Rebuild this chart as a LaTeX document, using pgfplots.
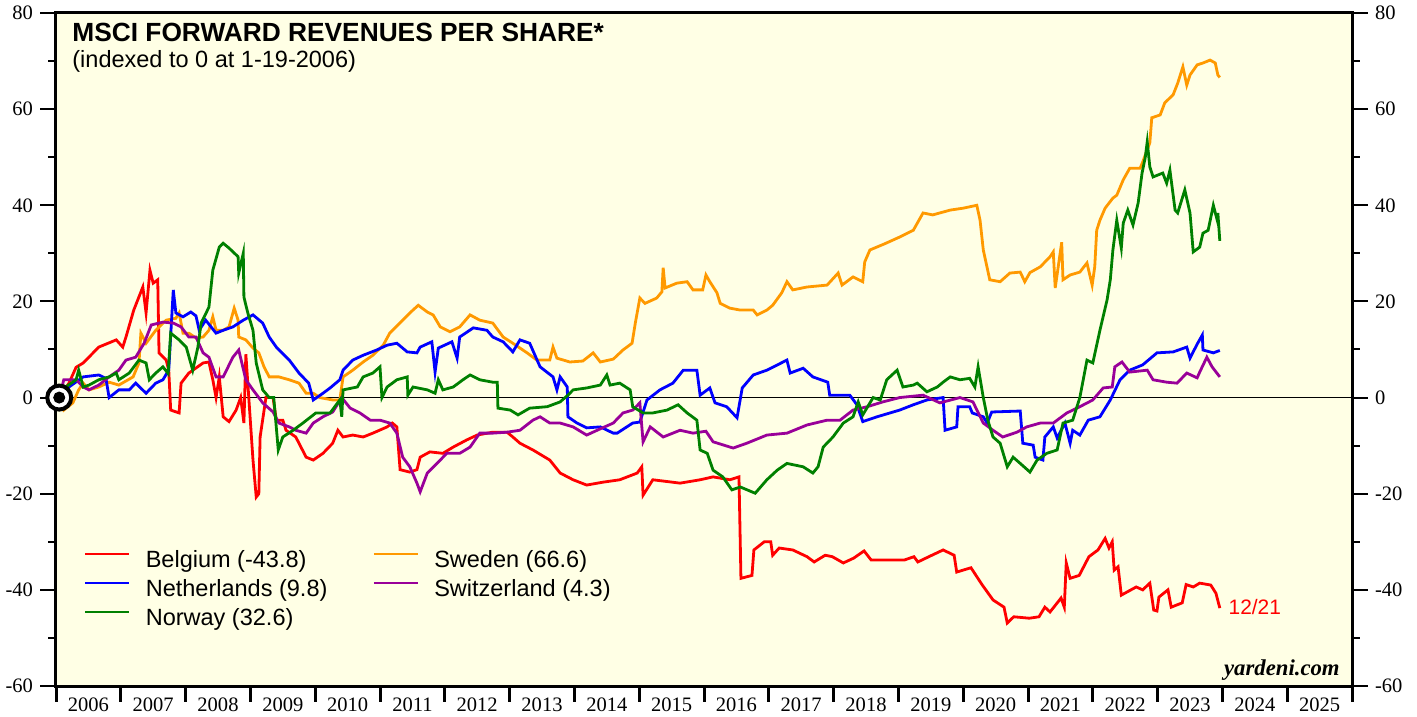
\documentclass[border=0pt]{standalone}
\usepackage{fontspec}
\setmainfont{Liberation Serif}
\newfontfamily\arial{Liberation Sans}
\usepackage{pgfplots}
\pgfplotsset{compat=1.18}
\definecolor{bgy}{RGB}{255,255,229}
\definecolor{cred}{RGB}{255,0,0}
\definecolor{cblue}{RGB}{0,0,255}
\definecolor{cgreen}{RGB}{0,128,0}
\definecolor{corange}{RGB}{255,153,0}
\definecolor{cpurple}{RGB}{153,0,153}
\begin{document}
\begin{tikzpicture}
\useasboundingbox (-28bp,-15.5bp) rectangle (680.5bp,343bp);
\begin{axis}[
  at={(0,0)}, anchor=south west,
  width=648bp, height=336.5bp, scale only axis,
  xmin=2006, xmax=2026, ymin=-60, ymax=80,
  clip=false,
  axis background/.style={fill=bgy},
  axis line style={line width=1.5bp},
  tick align=outside,
  major tick length=8bp, minor tick length=4bp,
  ytick={-60,-40,...,80}, minor ytick={-50,-30,...,70},
  ytick pos=both, yticklabel pos=left,
  ytick style={line width=1bp, black},
  minor tick style={line width=1bp, black},
  xtick={2006.5,2007.5,2008.5,2009.5,2010.5,2011.5,2012.5,2013.5,2014.5,2015.5,2016.5,2017.5,2018.5,2019.5,2020.5,2021.5,2022.5,2023.5,2024.5,2025.5},
  xticklabels={2006,2007,2008,2009,2010,2011,2012,2013,2014,2015,2016,2017,2018,2019,2020,2021,2022,2023,2024,2025},
  xtick pos=bottom,
  xtick style={draw=none},
  xticklabel style={yshift=5.8bp},
  ticklabel style={font=\fontsize{10.3}{12}\selectfont},
  /pgf/number format/assume math mode=true,
  legend columns=2,
  legend cell align=left,
  legend image code/.code={\draw[#1] (0bp,3.8bp) -- (22bp,3.8bp);},
  legend style={at={(rel axis cs:0.0216,0.2012)}, anchor=north west,
    inner sep=0pt, outer sep=0pt, draw=none, fill=none,
    font=\arial\fontsize{11.8}{13}\selectfont,
    nodes={inner xsep=2bp, inner ysep=0bp, text height=8.5bp, text depth=2.5bp},
    row sep=3.5bp,
    /tikz/every odd column/.append style={column sep=5.5bp},
    /tikz/every even column/.append style={column sep=20.5bp}},
]
\addplot[black, line width=0.6bp, forget plot] coordinates {(2006,0) (2026,0)};

\addplot[cred, line width=1.4bp] coordinates {
(2006.05,0)(2006.20,3)(2006.31,6.3)(2006.42,7.2)(2006.66,10.5)(2006.93,12)(2007.03,10.5)(2007.08,12.6)(2007.20,18.2)(2007.34,23)(2007.39,17.6)(2007.45,26.5)(2007.50,23.8)(2007.57,24.5)(2007.59,9.3)(2007.70,7.8)(2007.74,5.7)(2007.77,-2.6)(2007.90,-3.2)(2007.93,3)(2008.05,5.1)(2008.27,7.2)(2008.36,7.4)(2008.42,3.7)(2008.47,0)(2008.52,4.3)(2008.58,-4)(2008.67,-5)(2008.78,-2.6)(2008.85,0)(2008.90,-5.3)(2008.93,9)(2009.04,-13)(2009.09,-20.7)(2009.13,-20)(2009.15,-8.2)(2009.24,0)(2009.35,0)(2009.40,-4.7)(2009.50,-4.7)(2009.55,-6.8)(2009.70,-8.2)(2009.86,-12.4)(2009.97,-13)(2010.12,-11.6)(2010.27,-9.5)(2010.35,-6.8)(2010.43,-8.2)(2010.58,-7.8)(2010.74,-8.2)(2010.89,-7.4)(2011.11,-6.1)(2011.19,-5.3)(2011.26,-6.1)(2011.31,-15)(2011.46,-15.5)(2011.57,-15)(2011.62,-12.4)(2011.77,-11.3)(2011.97,-11.6)(2012.13,-10.3)(2012.34,-8.8)(2012.50,-7.8)(2012.74,-7.2)(2012.96,-7.2)(2013.05,-8.2)(2013.16,-9.5)(2013.36,-10.9)(2013.62,-13)(2013.78,-15.7)(2013.98,-17.1)(2014.19,-18.2)(2014.44,-17.6)(2014.70,-17.1)(2014.97,-15.7)(2015.04,-14.4)(2015.06,-20.3)(2015.21,-17.1)(2015.63,-17.8)(2015.94,-17.1)(2016.14,-16.5)(2016.40,-17.1)(2016.54,-16.5)(2016.57,-37.6)(2016.74,-37)(2016.77,-31.7)(2016.93,-30)(2017.03,-30)(2017.06,-32.8)(2017.16,-31.3)(2017.37,-31.7)(2017.59,-33.1)(2017.70,-34.2)(2017.87,-32.8)(2017.98,-33.1)(2018.15,-34.4)(2018.31,-33.4)(2018.47,-31.9)(2018.58,-33.8)(2018.81,-33.8)(2019.09,-33.8)(2019.24,-33.1)(2019.30,-34.2)(2019.47,-33.1)(2019.69,-31.7)(2019.86,-32.8)(2019.90,-36.3)(2020.12,-35.4)(2020.29,-38.9)(2020.46,-42.1)(2020.63,-43.6)(2020.68,-46.9)(2020.78,-45.6)(2021.02,-45.9)(2021.17,-45.6)(2021.26,-43.6)(2021.34,-44.6)(2021.51,-41.7)(2021.56,-43.6)(2021.59,-34.4)(2021.65,-37.6)(2021.79,-37)(2021.94,-33.1)(2022.08,-31.7)(2022.19,-29.3)(2022.25,-31.3)(2022.30,-30)(2022.33,-35.9)(2022.39,-35.2)(2022.44,-41.1)(2022.67,-39.4)(2022.77,-40)(2022.88,-38.6)(2022.94,-44.2)(2022.99,-44.4)(2023.02,-41.5)(2023.16,-40)(2023.21,-43.6)(2023.38,-42.7)(2023.44,-38.9)(2023.55,-39.4)(2023.65,-38.6)(2023.82,-39)(2023.90,-40.7)(2023.96,-43.8)
};
\addlegendentry{Belgium (-43.8)}

\addplot[corange, line width=1.4bp] coordinates {
(2006.05,0)(2006.12,-2.6)(2006.26,-1.1)(2006.35,1.6)(2006.42,3)(2006.51,1.6)(2006.66,2.2)(2006.82,3.2)(2006.97,2.6)(2007.19,4.3)(2007.28,7.2)(2007.31,13.4)(2007.39,11.3)(2007.54,14)(2007.70,16.1)(2007.85,16.5)(2007.90,17.6)(2007.96,13.4)(2008.05,13.4)(2008.16,12.4)(2008.27,12.6)(2008.36,14)(2008.42,16.8)(2008.47,14)(2008.58,14)(2008.67,14.7)(2008.75,18.6)(2008.81,16.1)(2008.82,12.6)(2008.93,12)(2009.04,10.3)(2009.13,9.3)(2009.21,6.4)(2009.29,4.3)(2009.44,4.3)(2009.60,3.7)(2009.75,3)(2009.86,0.9)(2009.97,0.9)(2010.07,0)(2010.27,-0.5)(2010.38,-0.5)(2010.43,4.3)(2010.58,5.7)(2010.74,7.4)(2010.89,8.8)(2011.05,10.9)(2011.15,13.4)(2011.35,16.1)(2011.46,17.6)(2011.59,19.2)(2011.73,17.8)(2011.82,17.2)(2011.93,14.7)(2012.08,13.7)(2012.23,14.7)(2012.39,17.2)(2012.54,16.1)(2012.74,15.5)(2012.90,12.6)(2013.05,11.3)(2013.27,9.3)(2013.42,7.8)(2013.62,7.8)(2013.67,10.5)(2013.73,8.2)(2013.93,7.4)(2014.13,7.6)(2014.29,9.3)(2014.40,7.4)(2014.60,8)(2014.75,9.9)(2014.89,11.3)(2014.94,15.5)(2015.01,20.7)(2015.09,19.6)(2015.27,20.7)(2015.35,22)(2015.37,27)(2015.40,22.8)(2015.58,23.8)(2015.74,24.1)(2015.83,22.4)(2015.98,22.4)(2016.03,25.5)(2016.09,24.1)(2016.20,21.8)(2016.25,19.6)(2016.40,18.6)(2016.56,18.2)(2016.76,18.2)(2016.82,17.2)(2016.97,18.2)(2017.06,19.2)(2017.20,21.8)(2017.28,24.1)(2017.37,22.4)(2017.59,23)(2017.90,23.4)(2018.07,25.9)(2018.13,23.4)(2018.30,25.1)(2018.45,24.1)(2018.48,28.2)(2018.56,30.7)(2018.79,32)(2019.02,33.4)(2019.23,34.8)(2019.38,38.4)(2019.53,38)(2019.80,39)(2020.00,39.4)(2020.21,40)(2020.26,36.9)(2020.31,30.7)(2020.41,24.5)(2020.57,24.1)(2020.72,25.9)(2020.88,26.1)(2020.95,24.1)(2021.03,26)(2021.19,27.2)(2021.34,29.3)(2021.39,30.3)(2021.42,22.8)(2021.52,32.3)(2021.54,24.5)(2021.65,25.5)(2021.80,26.1)(2021.91,28)(2021.99,23.4)(2022.03,27.2)(2022.06,34.8)(2022.11,36.9)(2022.19,39.4)(2022.31,41.5)(2022.37,42.1)(2022.47,45.3)(2022.57,47.7)(2022.73,47.7)(2022.77,49)(2022.88,53)(2022.91,58.2)(2023.04,58.8)(2023.11,61.3)(2023.24,63)(2023.31,65.4)(2023.39,68.8)(2023.45,65)(2023.50,67.1)(2023.61,69.2)(2023.70,69.6)(2023.81,70.2)(2023.89,69.6)(2023.93,67.1)(2023.96,66.6)
};
\addlegendentry{Sweden (66.6)}

\addplot[cblue, line width=1.4bp] coordinates {
(2006.05,0)(2006.20,2.2)(2006.42,4.3)(2006.66,4.7)(2006.77,4)(2006.82,0)(2006.97,1.6)(2007.13,1.6)(2007.23,3)(2007.39,0.9)(2007.54,3)(2007.65,3.7)(2007.74,5.7)(2007.81,22.4)(2007.85,17.6)(2007.96,16.8)(2008.08,17.8)(2008.16,17)(2008.21,14)(2008.31,16.1)(2008.47,13.4)(2008.58,14)(2008.73,14.7)(2008.89,16.1)(2009.04,17.2)(2009.19,15.5)(2009.29,12.6)(2009.40,10.5)(2009.60,7.8)(2009.75,5.1)(2009.90,3)(2009.97,-0.5)(2010.12,0.9)(2010.23,2)(2010.38,3.7)(2010.43,5.7)(2010.58,7.8)(2010.74,8.8)(2010.95,9.9)(2011.11,10.9)(2011.26,11.3)(2011.42,9.5)(2011.57,9.3)(2011.62,10.5)(2011.80,11.6)(2011.85,5.3)(2011.90,10.3)(2012.11,11.6)(2012.19,8.2)(2012.23,12.6)(2012.44,14.5)(2012.65,14)(2012.74,12.6)(2012.90,11.6)(2013.05,9.5)(2013.16,12)(2013.31,11.3)(2013.47,6.4)(2013.67,4.3)(2013.73,1.6)(2013.78,4.3)(2013.89,2.2)(2013.90,-4)(2014.04,-5.3)(2014.19,-6.3)(2014.40,-6.1)(2014.60,-7.4)(2014.66,-7.4)(2014.90,-5.3)(2015.01,-5.1)(2015.12,-0.5)(2015.32,1.6)(2015.52,3)(2015.68,5.7)(2015.89,5.7)(2015.94,0.5)(2016.09,2)(2016.17,-1.1)(2016.35,-1.9)(2016.51,-4.2)(2016.59,2)(2016.76,4.7)(2016.97,5.7)(2017.28,7.8)(2017.33,5.1)(2017.53,6.1)(2017.68,4.3)(2017.91,3.2)(2017.94,0.5)(2018.25,0.5)(2018.36,-1.5)(2018.45,-5)(2018.67,-4)(2019.02,-2.6)(2019.23,-1.5)(2019.44,-0.5)(2019.69,0)(2019.72,-6.8)(2019.90,-6.1)(2019.92,-1.9)(2020.10,-1.9)(2020.14,-3.2)(2020.31,-4)(2020.37,-5.3)(2020.44,-3)(2020.88,-2.8)(2020.92,-9.5)(2021.08,-9.9)(2021.11,-12.4)(2021.23,-13)(2021.26,-8.2)(2021.39,-6.1)(2021.45,-8.4)(2021.57,-5.3)(2021.65,-9.5)(2021.69,-6.8)(2021.80,-7.8)(2021.93,-4.7)(2022.11,-4)(2022.27,-0.5)(2022.42,3.7)(2022.57,5.7)(2022.77,6.8)(2022.99,9.3)(2023.24,9.5)(2023.45,10.5)(2023.50,8.2)(2023.61,11.1)(2023.69,13)(2023.70,9.9)(2023.86,9.3)(2023.96,9.8)
};
\addlegendentry{Netherlands (9.8)}

\addplot[cpurple, line width=1.4bp] coordinates {
(2006.05,0)(2006.12,3.7)(2006.31,3.7)(2006.42,2.2)(2006.51,1.6)(2006.66,2.6)(2006.82,4.3)(2006.97,5.7)(2007.08,7.8)(2007.23,8.4)(2007.36,11.3)(2007.47,15.1)(2007.65,15.7)(2007.81,15.5)(2007.93,14.7)(2008.05,12.6)(2008.16,12.6)(2008.27,9.3)(2008.36,8.4)(2008.47,4.3)(2008.58,4.3)(2008.73,8.4)(2008.82,9.9)(2008.93,3.7)(2009.04,1.6)(2009.19,-1.1)(2009.35,-3)(2009.44,-5.3)(2009.60,-6.1)(2009.70,-6.8)(2009.86,-7.4)(2009.97,-5.3)(2010.12,-4)(2010.27,-3)(2010.41,0)(2010.54,-2.2)(2010.69,-3.2)(2010.85,-4.7)(2011.00,-4.7)(2011.15,-5.3)(2011.26,-7.4)(2011.35,-12.4)(2011.46,-14.4)(2011.57,-17.8)(2011.62,-19.6)(2011.73,-15.7)(2011.88,-13.7)(2012.03,-11.6)(2012.23,-11.6)(2012.39,-10.3)(2012.54,-7.4)(2012.74,-7.4)(2012.96,-7.2)(2013.16,-6.8)(2013.36,-4.7)(2013.47,-4)(2013.62,-5.3)(2013.78,-5.3)(2013.98,-6.1)(2014.19,-7.8)(2014.40,-6.5)(2014.60,-5.3)(2014.75,-3.2)(2014.90,-2.6)(2015.01,-1.1)(2015.06,-9.2)(2015.17,-6.1)(2015.37,-8.2)(2015.63,-6.8)(2015.83,-7.4)(2016.03,-7)(2016.14,-9.2)(2016.45,-10.5)(2016.66,-9.5)(2016.97,-7.8)(2017.28,-7.4)(2017.59,-5.7)(2017.90,-4.7)(2018.10,-4.7)(2018.30,-2.6)(2018.52,-1.9)(2018.76,-0.9)(2019.02,0)(2019.38,0.5)(2019.64,-1.1)(2019.95,0)(2020.15,-0.9)(2020.31,-5.3)(2020.46,-6.8)(2020.61,-8.2)(2020.83,-7.2)(2020.98,-6.1)(2021.19,-5.3)(2021.39,-5.3)(2021.60,-3.2)(2021.80,-1.9)(2022.00,-0.5)(2022.16,2)(2022.30,2.2)(2022.34,6.4)(2022.45,7.4)(2022.57,5.3)(2022.84,5.7)(2022.93,3.7)(2023.14,3.2)(2023.30,3)(2023.45,5.1)(2023.61,4.1)(2023.65,5.3)(2023.76,8.4)(2023.84,6.4)(2023.96,4.3)
};
\addlegendentry{Switzerland (4.3)}

\addplot[cgreen, line width=1.4bp] coordinates {
(2006.05,0)(2006.15,2.2)(2006.31,3.7)(2006.35,5.7)(2006.42,2.2)(2006.51,2.6)(2006.66,3.7)(2006.82,4.3)(2006.93,5.1)(2006.97,3.7)(2007.13,5.1)(2007.28,7.8)(2007.39,7.2)(2007.44,3.7)(2007.54,5.1)(2007.65,6.4)(2007.73,5)(2007.77,13.4)(2007.90,12)(2008.01,10.5)(2008.11,5.7)(2008.19,10.5)(2008.24,15.5)(2008.36,18.8)(2008.42,26.5)(2008.52,31.3)(2008.58,32.1)(2008.67,31.1)(2008.81,29.3)(2008.82,25.9)(2008.89,30)(2008.90,20.9)(2008.96,17.6)(2009.04,14)(2009.09,7.2)(2009.19,1.6)(2009.29,0)(2009.36,0)(2009.43,-10.9)(2009.50,-8.2)(2009.66,-6.8)(2009.81,-5.3)(2010.01,-3.2)(2010.23,-3.2)(2010.38,-0.5)(2010.41,-4)(2010.43,1.6)(2010.65,2.2)(2010.74,4.3)(2010.89,5.1)(2011.00,6.4)(2011.03,0)(2011.11,2.2)(2011.26,3.7)(2011.42,4.3)(2011.43,0.5)(2011.51,2.2)(2011.73,1.6)(2011.85,0.9)(2011.90,3.7)(2011.97,1.6)(2012.13,2.2)(2012.28,3.7)(2012.39,4.7)(2012.54,3.7)(2012.74,3.2)(2012.81,3.2)(2012.82,-2.2)(2013.01,-2.6)(2013.13,-3.6)(2013.31,-2.2)(2013.58,-1.9)(2013.78,-0.9)(2013.90,0.5)(2013.98,1.6)(2014.19,2)(2014.40,2.6)(2014.50,4.7)(2014.55,2.6)(2014.70,3)(2014.86,1.6)(2014.90,-1.9)(2015.06,-3.2)(2015.21,-3.2)(2015.43,-2.6)(2015.60,-1.5)(2015.74,-3.2)(2015.89,-4.7)(2015.94,-10.9)(2016.05,-11.6)(2016.14,-15.1)(2016.29,-16.5)(2016.43,-19.2)(2016.56,-18.6)(2016.79,-19.9)(2016.97,-17.1)(2017.13,-15.1)(2017.28,-13.7)(2017.53,-14.4)(2017.68,-15.7)(2017.76,-14.4)(2017.84,-10.3)(2017.99,-8.2)(2018.15,-5.3)(2018.30,-4)(2018.38,-0.9)(2018.45,-3.6)(2018.61,0)(2018.72,-0.5)(2018.82,3.7)(2018.98,5.7)(2019.07,2.2)(2019.23,2.6)(2019.29,3)(2019.44,1.2)(2019.60,2.2)(2019.69,3.2)(2019.80,4.3)(2019.95,3.7)(2020.10,4)(2020.18,2.2)(2020.23,6.4)(2020.31,0)(2020.38,-4.7)(2020.46,-8.2)(2020.57,-9.5)(2020.68,-14.4)(2020.77,-12.4)(2020.88,-13.7)(2021.03,-15.5)(2021.14,-13)(2021.29,-11.6)(2021.45,-10.9)(2021.54,-5.3)(2021.69,-4.7)(2021.80,0)(2021.91,7.8)(2022.00,7.2)(2022.11,14)(2022.22,20.3)(2022.27,24.5)(2022.31,30.7)(2022.37,36.9)(2022.44,31.1)(2022.47,36.3)(2022.54,39)(2022.62,35.9)(2022.70,40.5)(2022.76,46.7)(2022.81,50)(2022.84,53.2)(2022.88,48)(2022.93,45.9)(2023.08,46.7)(2023.14,44.6)(2023.19,47.3)(2023.27,39)(2023.31,38.4)(2023.42,43.2)(2023.50,38.4)(2023.55,30.3)(2023.65,31.3)(2023.70,34.2)(2023.78,34.8)(2023.86,40)(2023.92,36.9)(2023.93,38.4)(2023.96,32.6)
};
\addlegendentry{Norway (32.6)}

\addplot[forget plot, only marks, mark=*, mark size=6bp, mark options={fill=white, draw=black, line width=2bp}] coordinates {(2006.05,0)};
\addplot[forget plot, only marks, mark=*, mark size=2.8bp, mark options={fill=black, draw=black}] coordinates {(2006.05,0)};

\node[anchor=base west, inner sep=0pt, font=\arial\bfseries\fontsize{13.2}{15}\selectfont] at (rel axis cs:0,1) [xshift=8bp, yshift=-14.5bp] {MSCI FORWARD REVENUES PER SHARE*};
\node[anchor=base west, inner sep=0pt, font=\arial\fontsize{11.8}{13}\selectfont] at (rel axis cs:0,1) [xshift=8bp, yshift=-27.5bp] {(indexed to 0 at 1-19-2006)};
\node[anchor=west, inner sep=0pt, text=cred, font=\arial\fontsize{10.5}{12}\selectfont] at (axis cs:2024.09,-43.6) {12/21};
\node[anchor=base east, inner sep=0pt, font=\bfseries\itshape\fontsize{11.4}{13}\selectfont] at (rel axis cs:1,0) [xshift=-6bp, yshift=5.5bp] {yardeni.com};
\end{axis}
\begin{axis}[
  at={(0,0)}, anchor=south west,
  width=648bp, height=336.5bp, scale only axis,
  xmin=2006, xmax=2026, ymin=-60, ymax=80,
  hide x axis,
  axis y line*=right,
  axis line style={draw=none},
  tick align=outside, major tick length=8bp,
  ytick={-60,-40,...,80},
  ytick style={draw=none},
  ticklabel style={font=\fontsize{10.3}{12}\selectfont},
  /pgf/number format/assume math mode=true,
]
\end{axis}
\foreach \i in {0,...,20} \draw[line width=1.5bp] (\i*32.4bp,0) -- (\i*32.4bp,-8bp);
\end{tikzpicture}
\end{document}
